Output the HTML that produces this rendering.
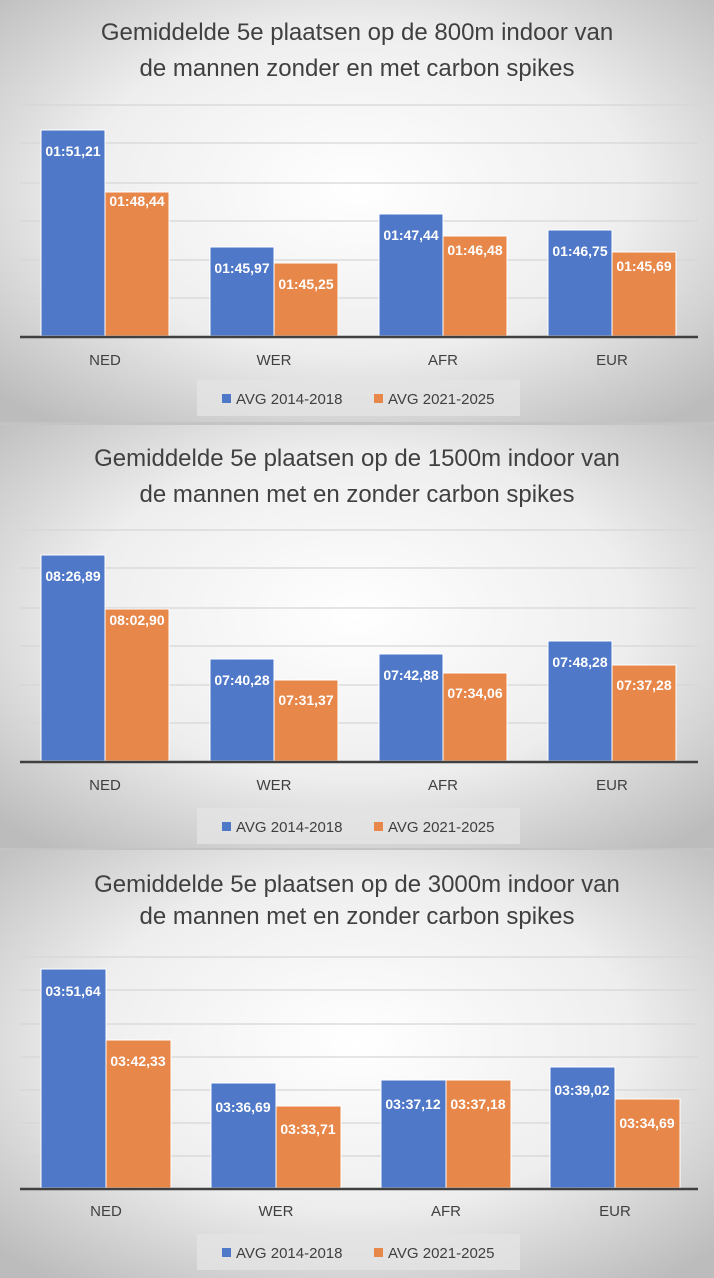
<!DOCTYPE html>
<html><head><meta charset="utf-8"><style>
html,body{margin:0;padding:0;background:#bdbdbd}
svg{display:block}
text{font-family:"Liberation Sans",sans-serif}
</style></head><body>
<svg width="714" height="1278" viewBox="0 0 714 1278" xmlns="http://www.w3.org/2000/svg">
<defs>
<radialGradient id="bg" cx="50%" cy="45%" r="70%">
<stop offset="0" stop-color="#ffffff"/><stop offset="0.55" stop-color="#eeeeee"/><stop offset="1" stop-color="#bcbcbc"/>
</radialGradient>
</defs>
<rect x="0" y="0" width="714" height="1278" fill="#c4c4c4"/>
<rect x="0" y="0" width="714" height="422" fill="url(#bg)"/>
<rect x="0" y="425" width="714" height="423" fill="url(#bg)"/>
<rect x="0" y="850" width="714" height="428" fill="url(#bg)"/>

<!-- Panel 1 -->
<g>
<text x="357" y="40" font-size="24" fill="#404040" text-anchor="middle">Gemiddelde 5e plaatsen op de 800m indoor van</text>
<text x="357" y="76" font-size="24" fill="#404040" text-anchor="middle">de mannen zonder en met carbon spikes</text>
<g stroke="#d6d6d6" stroke-width="1.3">
<line x1="20" x2="698" y1="105" y2="105"/><line x1="20" x2="698" y1="143" y2="143"/><line x1="20" x2="698" y1="183" y2="183"/><line x1="20" x2="698" y1="221" y2="221"/><line x1="20" x2="698" y1="260" y2="260"/><line x1="20" x2="698" y1="298" y2="298"/>
</g>
<g stroke="#fff" stroke-width="1">
<rect x="41" y="130" width="64" height="206" fill="#4f78c8"/><rect x="105" y="192" width="64" height="144" fill="#e7874a"/>
<rect x="210" y="247" width="64" height="89" fill="#4f78c8"/><rect x="274" y="263" width="64" height="73" fill="#e7874a"/>
<rect x="379" y="214" width="64" height="122" fill="#4f78c8"/><rect x="443" y="236" width="64" height="100" fill="#e7874a"/>
<rect x="548" y="230" width="64" height="106" fill="#4f78c8"/><rect x="612" y="252" width="64" height="84" fill="#e7874a"/>
</g>
<line x1="20" x2="698" y1="337" y2="337" stroke="#404040" stroke-width="2.5"/>
<g font-size="14" font-weight="bold" fill="#fff" text-anchor="middle">
<text x="73" y="156">01:51,21</text><text x="137" y="206">01:48,44</text>
<text x="242" y="273">01:45,97</text><text x="306" y="289">01:45,25</text>
<text x="411" y="240">01:47,44</text><text x="475" y="255">01:46,48</text>
<text x="580" y="256">01:46,75</text><text x="644" y="271">01:45,69</text>
</g>
<g font-size="15" fill="#404040" text-anchor="middle">
<text x="105" y="365">NED</text><text x="274" y="365">WER</text><text x="443" y="365">AFR</text><text x="612" y="365">EUR</text>
</g>
<rect x="197" y="380" width="323" height="36" fill="#e4e4e4" opacity="0.8"/>
<rect x="222" y="394" width="9" height="9" fill="#4f78c8"/><text x="236" y="404" font-size="15" fill="#404040">AVG 2014-2018</text>
<rect x="374" y="394" width="9" height="9" fill="#e7874a"/><text x="388" y="404" font-size="15" fill="#404040">AVG 2021-2025</text>
</g>

<!-- Panel 2 -->
<g transform="translate(0,425)">
<text x="357" y="41" font-size="24" fill="#404040" text-anchor="middle">Gemiddelde 5e plaatsen op de 1500m indoor van</text>
<text x="357" y="77" font-size="24" fill="#404040" text-anchor="middle">de mannen met en zonder carbon spikes</text>
<g stroke="#d6d6d6" stroke-width="1.3">
<line x1="20" x2="698" y1="105" y2="105"/><line x1="20" x2="698" y1="143" y2="143"/><line x1="20" x2="698" y1="183" y2="183"/><line x1="20" x2="698" y1="221" y2="221"/><line x1="20" x2="698" y1="260" y2="260"/><line x1="20" x2="698" y1="298" y2="298"/>
</g>
<g stroke="#fff" stroke-width="1">
<rect x="41" y="130" width="64" height="206" fill="#4f78c8"/><rect x="105" y="184" width="64" height="152" fill="#e7874a"/>
<rect x="210" y="234" width="64" height="102" fill="#4f78c8"/><rect x="274" y="255" width="64" height="81" fill="#e7874a"/>
<rect x="379" y="229" width="64" height="107" fill="#4f78c8"/><rect x="443" y="248" width="64" height="88" fill="#e7874a"/>
<rect x="548" y="216" width="64" height="120" fill="#4f78c8"/><rect x="612" y="240" width="64" height="96" fill="#e7874a"/>
</g>
<line x1="20" x2="698" y1="337" y2="337" stroke="#404040" stroke-width="2.5"/>
<g font-size="14" font-weight="bold" fill="#fff" text-anchor="middle">
<text x="73" y="156">08:26,89</text><text x="137" y="200">08:02,90</text>
<text x="242" y="260">07:40,28</text><text x="306" y="280">07:31,37</text>
<text x="411" y="255">07:42,88</text><text x="475" y="273">07:34,06</text>
<text x="580" y="242">07:48,28</text><text x="644" y="265">07:37,28</text>
</g>
<g font-size="15" fill="#404040" text-anchor="middle">
<text x="105" y="365">NED</text><text x="274" y="365">WER</text><text x="443" y="365">AFR</text><text x="612" y="365">EUR</text>
</g>
<rect x="197" y="383" width="323" height="36" fill="#e4e4e4" opacity="0.8"/>
<rect x="222" y="397" width="9" height="9" fill="#4f78c8"/><text x="236" y="407" font-size="15" fill="#404040">AVG 2014-2018</text>
<rect x="374" y="397" width="9" height="9" fill="#e7874a"/><text x="388" y="407" font-size="15" fill="#404040">AVG 2021-2025</text>
</g>

<!-- Panel 3 -->
<g transform="translate(0,850)">
<text x="357" y="42" font-size="24" fill="#404040" text-anchor="middle">Gemiddelde 5e plaatsen op de 3000m indoor van</text>
<text x="357" y="74" font-size="24" fill="#404040" text-anchor="middle">de mannen met en zonder carbon spikes</text>
<g stroke="#d6d6d6" stroke-width="1.3">
<line x1="20" x2="698" y1="107" y2="107"/><line x1="20" x2="698" y1="140" y2="140"/><line x1="20" x2="698" y1="174" y2="174"/><line x1="20" x2="698" y1="207" y2="207"/><line x1="20" x2="698" y1="240" y2="240"/><line x1="20" x2="698" y1="273" y2="273"/><line x1="20" x2="698" y1="306" y2="306"/>
</g>
<g stroke="#fff" stroke-width="1">
<rect x="41" y="119" width="65" height="219" fill="#4f78c8"/><rect x="106" y="190" width="65" height="148" fill="#e7874a"/>
<rect x="211" y="233" width="65" height="105" fill="#4f78c8"/><rect x="276" y="256" width="65" height="82" fill="#e7874a"/>
<rect x="381" y="230" width="65" height="108" fill="#4f78c8"/><rect x="446" y="230" width="65" height="108" fill="#e7874a"/>
<rect x="550" y="217" width="65" height="121" fill="#4f78c8"/><rect x="615" y="249" width="65" height="89" fill="#e7874a"/>
</g>
<line x1="20" x2="698" y1="339" y2="339" stroke="#404040" stroke-width="2.5"/>
<g font-size="14" font-weight="bold" fill="#fff" text-anchor="middle">
<text x="73" y="146">03:51,64</text><text x="138" y="216">03:42,33</text>
<text x="243" y="262">03:36,69</text><text x="308" y="284">03:33,71</text>
<text x="413" y="259">03:37,12</text><text x="478" y="259">03:37,18</text>
<text x="582" y="245">03:39,02</text><text x="647" y="278">03:34,69</text>
</g>
<g font-size="15" fill="#404040" text-anchor="middle">
<text x="106" y="366">NED</text><text x="276" y="366">WER</text><text x="446" y="366">AFR</text><text x="615" y="366">EUR</text>
</g>
<rect x="197" y="384" width="323" height="36" fill="#e4e4e4" opacity="0.8"/>
<rect x="222" y="398" width="9" height="9" fill="#4f78c8"/><text x="236" y="408" font-size="15" fill="#404040">AVG 2014-2018</text>
<rect x="374" y="398" width="9" height="9" fill="#e7874a"/><text x="388" y="408" font-size="15" fill="#404040">AVG 2021-2025</text>
</g>
</svg>
</body></html>
